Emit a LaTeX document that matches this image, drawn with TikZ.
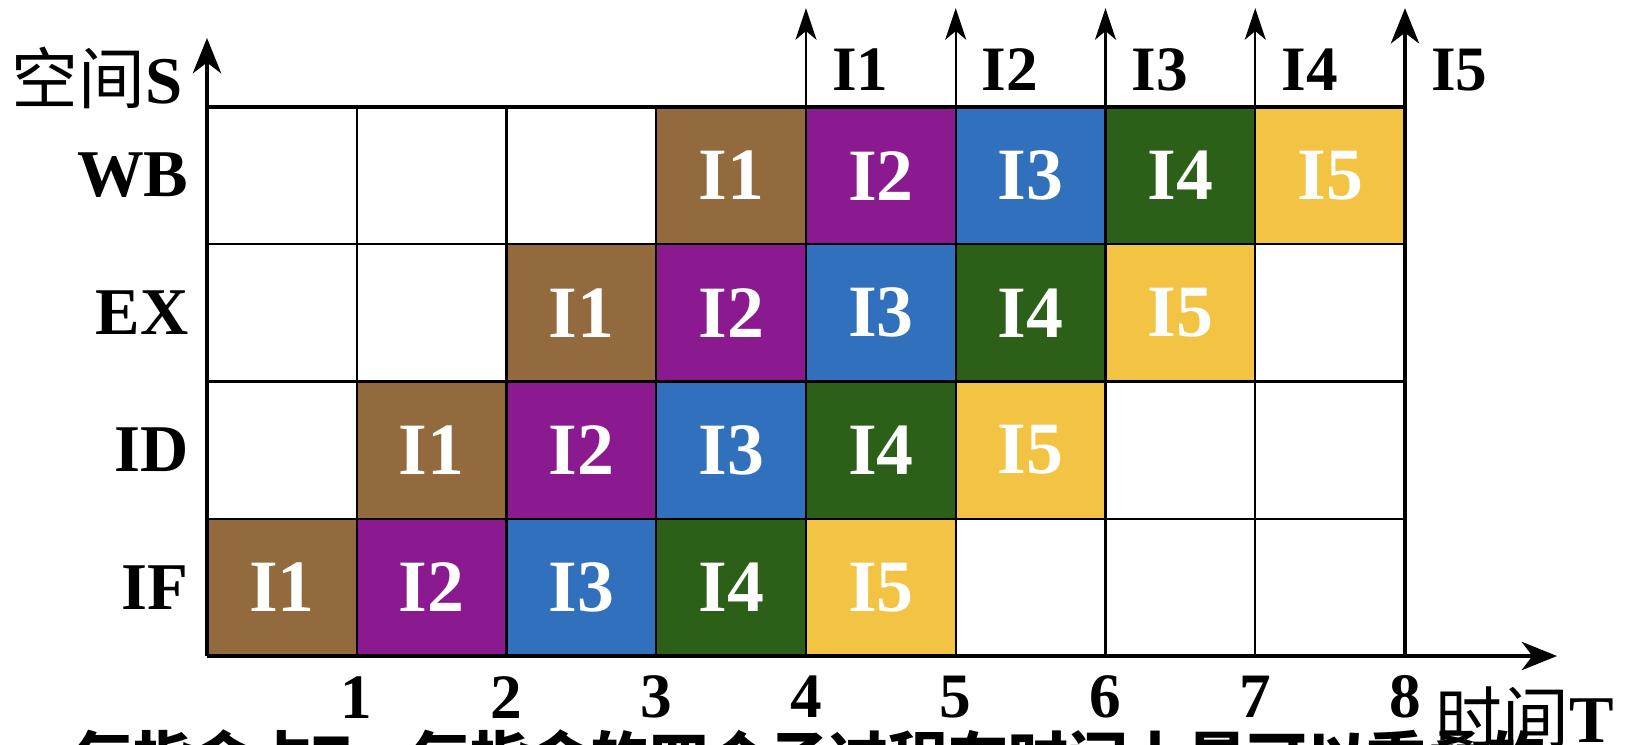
\documentclass[tikz,border=0pt]{standalone}
\usepackage{fontspec}
\setmainfont{Liberation Serif}
\newfontfamily\cjk{Noto Sans CJK SC}
\usetikzlibrary{arrows.meta}
\definecolor{brownI}{HTML}{93693E}
\definecolor{purpleI}{HTML}{8B1A91}
\definecolor{blueI}{HTML}{3070BD}
\definecolor{greenI}{HTML}{2C6018}
\definecolor{yellowI}{HTML}{F3C343}

\begin{document}
\begin{tikzpicture}[
    cellBox/.style={rectangle, minimum width=1.4975cm, minimum height=1.3725cm, inner sep=0pt, text=white, font=\fontsize{21}{21}\selectfont\bfseries},
    stageLabel/.style={anchor=east, inner sep=0pt, font=\fontsize{19}{19}\selectfont\bfseries},
    tickLabel/.style={inner sep=0pt, font=\fontsize{18}{18}\selectfont\bfseries},
    instLabel/.style={anchor=west, inner sep=0pt, font=\fontsize{18}{18}\selectfont\bfseries},
    axisName/.style={inner sep=0pt, font=\fontsize{19}{19}\selectfont},
    gridLine/.style={line width=0.6pt},
    axisLine/.style={line width=1.4pt},
    thinTip/.style={-{Stealth[length=9pt, width=6pt, inset=2.5pt]}},
    bigTip/.style={-{Stealth[length=10pt, width=8pt, inset=3pt]}}
]
    \useasboundingbox (0,0) rectangle (16.42,7.44);

    \begin{scope}[shift={(2.07,0.88)}, x=1.4975cm, y=1.3725cm]
        % coloured cells: instruction k in stage s
        \foreach \k/\col in {1/brownI,2/purpleI,3/blueI,4/greenI,5/yellowI}
            \foreach \s in {0,...,3}
                \node[cellBox, fill=\col] (c\k\s) at ({\k-1+\s+0.5}, {\s+0.5}) {I\k};

        % grid
        \foreach \i in {1,...,7}
            \draw[gridLine] (\i,0) -- (\i,4);
        \foreach \j in {1,2,3}
            \draw[gridLine] (0,\j) -- (8,\j);

        % axes
        \coordinate (o) at (0,0);
        \coordinate (sTip) at (0,4.503);
        \coordinate (tTip) at (9.015,0);
        \coordinate (tl) at (0,4);
        \coordinate (tr) at (8,4);
        \coordinate (br) at (8,0);
        \coordinate (rTip) at (8,4.72);
        \draw[axisLine, bigTip] (o) -- (sTip);
        \draw[axisLine, bigTip] (o) -- (tTip);
        \draw[axisLine] (tl) -- (tr);
        \draw[axisLine, bigTip] (br) -- (rTip);
        \foreach \i in {4,...,7}
            \draw[gridLine, thinTip] (\i,4) -- (\i,4.72);

        % stage labels
        \foreach \s/\name in {0/IF,1/ID,2/EX,3/WB}
            \node[stageLabel] (st\name) at (-0.12, {\s+0.5}) {\name};

        % time ticks
        \foreach \i in {1,...,8}
            \node[tickLabel] (tick\i) at (\i,-0.30) {\i};

        % completed instructions
        \foreach \k in {1,...,5}
            \node[instLabel] (done\k) at ({\k+3+0.17}, 4.27) {I\k};

        % axis names
        \node[axisName, anchor=east] (sName) at (-0.16,4.21) {{\cjk 空间}\textbf{S}};
        \node[axisName] (tName) at (8.80,-0.45) {{\cjk 时间}\textbf{T}};
    \end{scope}

    % caption cut off by the page edge
    \node[anchor=base west, inner sep=0pt, font=\cjk\bfseries\fontsize{17}{17}\selectfont] (caption) at (0.73,-0.37) {每指令占T，每指令的四个子过程在时间上是可以重叠的};
\end{tikzpicture}
\end{document}
